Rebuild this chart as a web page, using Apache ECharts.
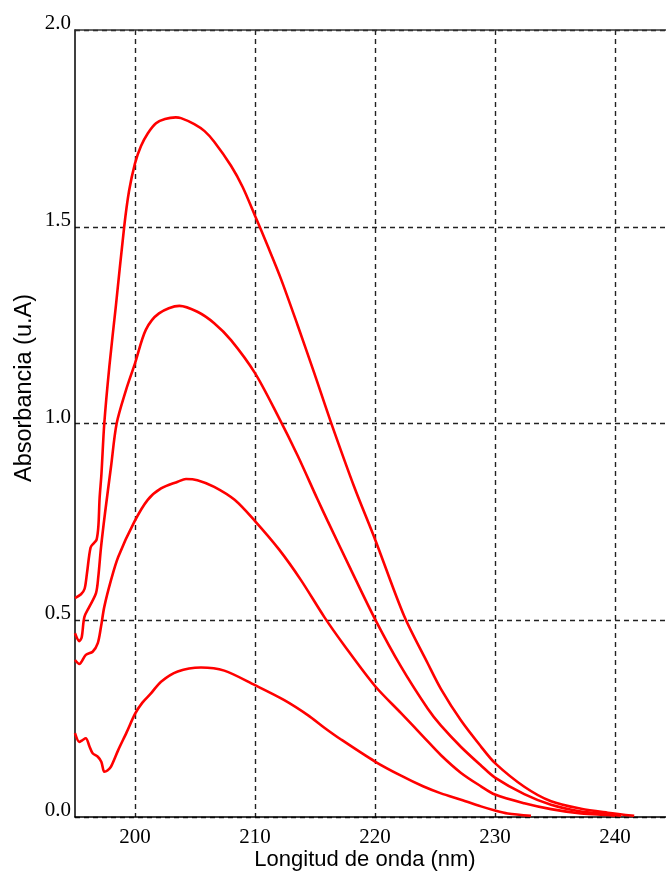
<!DOCTYPE html>
<html>
<head>
<meta charset="utf-8">
<script src="https://cdn.jsdelivr.net/npm/echarts@6/dist/echarts.min.js"></script>
<style>
html,body{margin:0;padding:0;background:#fff;}
#chart{width:666px;height:874px;}
</style>
</head>
<body>
<div id="chart"></div>
<script>
const xTicks = [200, 210, 220, 230, 240];
const yTicks = [0, 0.5, 1.0, 1.5, 2.0];
const xTitle = 'Longitud de onda (nm)';
const yTitle = 'Absorbancia (u.A)';

const wl1 = [195.0, 195.5, 195.8, 196.0, 196.3, 196.6, 196.8, 196.95, 197.05, 197.2, 197.44, 197.86, 198.4, 199.1, 199.5, 200.0, 200.5, 201.06, 201.75, 202.5, 203.4, 203.83, 204.94, 205.8, 206.6, 208.0, 208.97, 210.0, 211.06, 212.17, 213.56, 214.94, 216.33, 218.28, 220.0, 222.44, 224.4, 225.5, 227.17, 228.83, 230.0, 232.44, 234.67, 237.17, 239.4, 241.6];
const abs1 = [0.556, 0.566, 0.58, 0.62, 0.685, 0.697, 0.705, 0.74, 0.81, 0.87, 1.0, 1.144, 1.297, 1.5, 1.59, 1.661, 1.705, 1.737, 1.763, 1.774, 1.778, 1.776, 1.761, 1.743, 1.716, 1.655, 1.601, 1.528, 1.451, 1.367, 1.249, 1.128, 1.003, 0.838, 0.706, 0.51, 0.39, 0.325, 0.245, 0.179, 0.137, 0.077, 0.040, 0.021, 0.011, 0.003];

const wl2 = [195.0, 195.36, 195.56, 195.78, 196.19, 196.75, 196.94, 197.17, 197.5, 198.0, 198.47, 199.25, 200.0, 200.9, 202.0, 203.7, 205.2, 206.6, 208.0, 210.0, 211.9, 213.56, 215.2, 216.06, 218.0, 220.0, 222.17, 224.4, 225.5, 227.17, 228.83, 230.0, 232.44, 234.67, 237.17, 239.4, 240.5];
const abs2 = [0.467, 0.447, 0.457, 0.508, 0.534, 0.569, 0.61, 0.686, 0.772, 0.89, 1.0, 1.085, 1.153, 1.238, 1.28, 1.299, 1.284, 1.255, 1.212, 1.128, 1.02, 0.918, 0.808, 0.752, 0.628, 0.503, 0.382, 0.275, 0.232, 0.178, 0.131, 0.100, 0.058, 0.031, 0.014, 0.0076, 0.003];

const wl3 = [195.0, 195.36, 195.9, 196.47, 196.9, 197.17, 197.44, 198.0, 198.6, 199.94, 201.06, 202.17, 203.56, 204.25, 205.2, 206.6, 208.3, 210.0, 212.0, 213.83, 215.78, 217.44, 220.0, 222.17, 224.0, 225.5, 227.17, 228.83, 230.0, 232.44, 234.67, 237.17, 239.4, 240.0];
const abs3 = [0.399, 0.389, 0.412, 0.42, 0.442, 0.484, 0.534, 0.602, 0.661, 0.75, 0.806, 0.835, 0.852, 0.859, 0.856, 0.839, 0.806, 0.752, 0.68, 0.602, 0.508, 0.436, 0.333, 0.264, 0.205, 0.157, 0.112, 0.078, 0.057, 0.035, 0.02, 0.009, 0.005, 0.003];

const wl4 = [195.0, 195.36, 195.6, 195.9, 196.2, 196.47, 196.9, 197.2, 197.44, 197.7, 198.0, 198.6, 199.3, 200.0, 200.6, 201.33, 202.17, 203.56, 205.5, 207.44, 210.0, 212.44, 214.4, 215.78, 217.17, 220.0, 222.17, 224.0, 225.5, 227.17, 228.83, 230.0, 231.06, 233.0];
const abs4 = [0.213, 0.191, 0.195, 0.2, 0.18, 0.162, 0.153, 0.14, 0.115, 0.118, 0.128, 0.17, 0.215, 0.262, 0.29, 0.314, 0.344, 0.37, 0.38, 0.372, 0.335, 0.297, 0.259, 0.227, 0.197, 0.141, 0.105, 0.078, 0.06, 0.044, 0.027, 0.0165, 0.009, 0.003];

function zip(a, b) { return a.map((v, i) => [v, b[i]]); }
const curves = [zip(wl1, abs1), zip(wl2, abs2), zip(wl3, abs3), zip(wl4, abs4)];

const chart = echarts.init(document.getElementById('chart'), null, {renderer: 'canvas'});
const gridLine = {show: true, lineStyle: {color: '#222', width: 1.4, type: [5, 4]}};
chart.setOption({
  animation: false,
  backgroundColor: '#fff',
  grid: {left: 75, right: 0, top: 30, bottom: 57, containLabel: false},
  xAxis: [{
    type: 'value', min: 195, max: 244.25,
    axisLine: {show: true, lineStyle: {color: '#000', width: 1.5}},
    axisTick: {show: false, customValues: xTicks},
    axisLabel: {customValues: xTicks, fontFamily: 'Liberation Serif', fontSize: 21, color: '#000', margin: 10},
    splitLine: gridLine
  }, {
    type: 'value', position: 'top', min: 195, max: 244.25,
    axisLine: {show: true, onZero: false, lineStyle: {color: '#333', width: 1.5}},
    axisTick: {show: false}, axisLabel: {show: false}, splitLine: {show: false}
  }],
  yAxis: {
    type: 'value', min: 0, max: 2, interval: 0.5,
    axisLine: {show: true, lineStyle: {color: '#000', width: 1.5}},
    axisTick: {show: false},
    axisLabel: {fontFamily: 'Liberation Serif', fontSize: 21, color: '#000', margin: 4,
      verticalAlign: 'bottom', lineHeight: 13,
      formatter: v => v.toFixed(1)},
    splitLine: gridLine
  },
  graphic: [
    {type: 'text', x: 365, y: 860, style: {text: xTitle, font: '22px "Liberation Sans", Arial, sans-serif', fill: '#000', align: 'center', verticalAlign: 'middle'}},
    {type: 'text', x: 25, y: 388, rotation: Math.PI / 2, style: {text: yTitle, font: '23.5px "Liberation Sans", Arial, sans-serif', fill: '#000', align: 'center', verticalAlign: 'middle'}}
  ],
  series: curves.map(d => ({
    type: 'line', data: d, showSymbol: false, smooth: 0.3,
    lineStyle: {color: '#ff0000', width: 2.6}, xAxisIndex: 0
  }))
});
</script>
</body>
</html>
